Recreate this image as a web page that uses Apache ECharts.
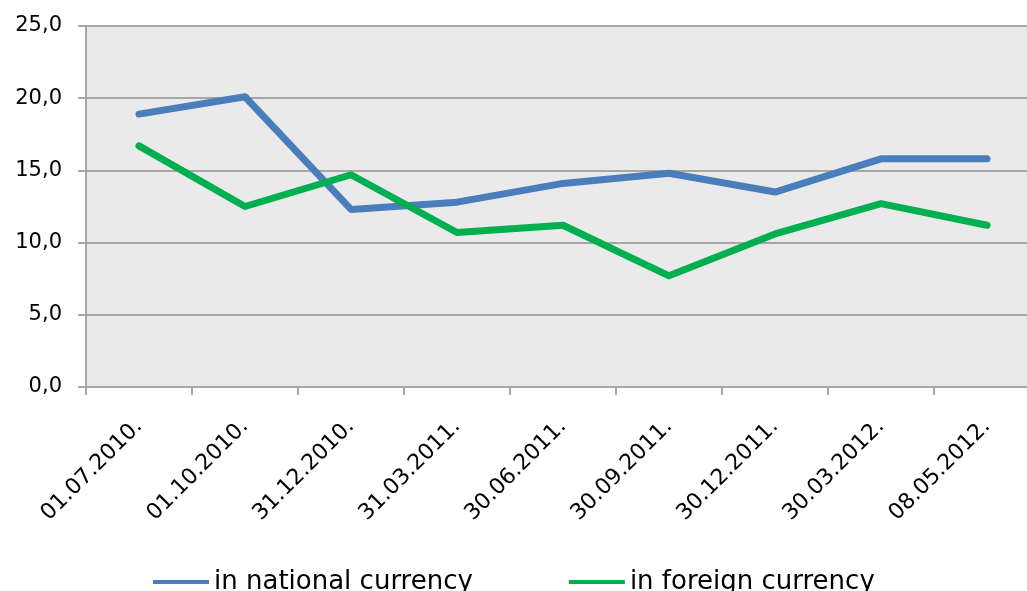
<!DOCTYPE html>
<html>
<head>
<meta charset="utf-8">
<script src="https://cdn.jsdelivr.net/npm/echarts@6/dist/echarts.min.js"></script>
<style>
  html, body { margin: 0; padding: 0; background: #fff; }
  #main { width: 1027px; height: 591px; }
</style>
</head>
<body>
<div id="main"></div>
<script>
// data
const dates = ['01.07.2010.', '01.10.2010.', '31.12.2010.', '31.03.2011.', '30.06.2011.',
               '30.09.2011.', '30.12.2011.', '30.03.2012.', '08.05.2012.'];
const nationalCurrency = [18.9, 20.1, 12.3, 12.8, 14.1, 14.8, 13.5, 15.8, 15.8];
const foreignCurrency = [16.7, 12.5, 14.7, 10.7, 11.2, 7.7, 10.6, 12.7, 11.2];
const seriesNames = ['in national currency', 'in foreign currency'];

const font = 'DejaVu Sans';
const chart = echarts.init(document.getElementById('main'));

chart.setOption({
    backgroundColor: '#ffffff',
    animation: false,
    textStyle: { fontFamily: font, color: '#000' },
    grid: {
        left: 86, width: 954, top: 26, bottom: 204,
        outerBoundsMode: 'none',
        containLabel: false,
        show: true, backgroundColor: '#eaeaea', borderWidth: 0
    },
    legend: {
        bottom: -9,
        left: 148,
        itemGap: 96,
        icon: 'rect',
        itemWidth: 56,
        itemHeight: 4,
        textStyle: { fontFamily: font, fontSize: 26, color: '#000' },
        data: seriesNames
    },
    xAxis: {
        type: 'category',
        data: dates,
        boundaryGap: true,
        axisLine: { lineStyle: { color: '#a6a6a6', width: 2 } },
        axisTick: { show: true, length: 8, lineStyle: { color: '#a6a6a6', width: 2 } },
        axisLabel: {
            rotate: 45, margin: 36, fontSize: 22, color: '#000', fontFamily: font
        }
    },
    yAxis: {
        type: 'value',
        min: 0, max: 25, interval: 5,
        axisLine: { show: true, lineStyle: { color: '#a6a6a6', width: 2 } },
        axisTick: { show: true, length: 8, lineStyle: { color: '#a6a6a6', width: 2 } },
        splitLine: { lineStyle: { color: '#a6a6a6', width: 2 } },
        axisLabel: {
            margin: 24, fontSize: 21, color: '#000', fontFamily: font,
            formatter: v => v.toFixed(1).replace('.', ',')
        }
    },
    series: [
        {
            name: seriesNames[0],
            type: 'line',
            data: nationalCurrency,
            showSymbol: false,
            color: '#4a7ebb',
            lineStyle: { width: 7, color: '#4a7ebb', cap: 'round', join: 'round' }
        },
        {
            name: seriesNames[1],
            type: 'line',
            data: foreignCurrency,
            showSymbol: false,
            color: '#00b050',
            lineStyle: { width: 7, color: '#00b050', cap: 'round', join: 'round' }
        }
    ]
});
</script>
</body>
</html>
